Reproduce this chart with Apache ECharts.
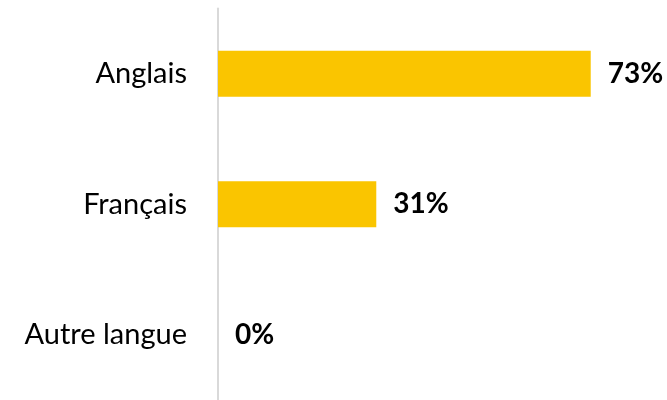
<!DOCTYPE html>
<html>
<head>
<meta charset="utf-8">
<script src="https://cdn.jsdelivr.net/npm/echarts@6/dist/echarts.min.js"></script>
<style>
  html, body { margin: 0; padding: 0; background: #fff; }
  #chart { width: 667px; height: 400px; }
</style>
</head>
<body>
<div id="chart"></div>
<script>
// Languages and share of respondents (%)
const categories = ['Anglais', 'Français', 'Autre langue'];
const values = [73, 31, 0];

const chart = echarts.init(document.getElementById('chart'), null, { renderer: 'canvas' });

chart.setOption({
  animation: false,
  backgroundColor: '#ffffff',
  grid: { left: 218, top: 8.5, width: 434, height: 397.5, containLabel: false },
  xAxis: {
    type: 'value',
    min: 0,
    max: 85,
    show: false
  },
  yAxis: {
    type: 'category',
    data: categories,
    inverse: true,
    axisLine: { show: true, lineStyle: { color: '#d9d9d9', width: 2 } },
    axisTick: { show: false },
    axisLabel: {
      margin: 31,
      fontFamily: 'Lato',
      fontSize: 29,
      color: '#000000'
    }
  },
  series: [{
    type: 'bar',
    data: values,
    barWidth: 46,
    itemStyle: { color: '#FAC500' },
    label: {
      show: true,
      position: 'right',
      distance: 17,
      formatter: p => p.value + '%',
      fontFamily: 'Lato',
      fontWeight: 'bold',
      fontSize: 28,
      color: '#000000'
    }
  }]
});
</script>
</body>
</html>
